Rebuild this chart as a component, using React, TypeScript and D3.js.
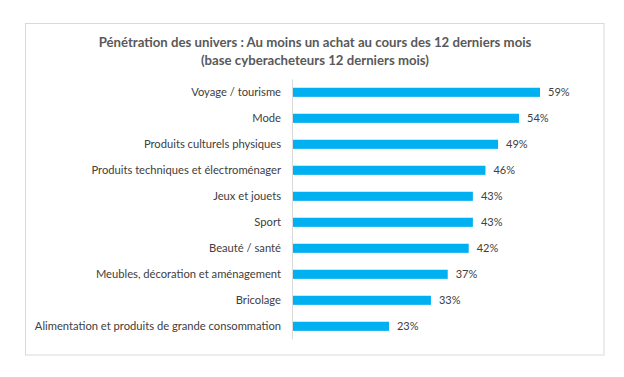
import React from "react";
import * as d3 from "d3";

const categories = [
  "Voyage / tourisme",
  "Mode",
  "Produits culturels physiques",
  "Produits techniques et électroménager",
  "Jeux et jouets",
  "Sport",
  "Beauté / santé",
  "Meubles, décoration et aménagement",
  "Bricolage",
  "Alimentation et produits de grande consommation",
];
const values = [59, 54, 49, 46, 43, 43, 42, 37, 33, 23];
const titleLines = [
  "Pénétration des univers : Au moins un achat au cours des 12 derniers mois",
  "(base cyberacheteurs 12 derniers mois)",
];

export default function App() {
  const W = 624, H = 377;
  const x0 = 292.5;
  const x = d3.scaleLinear().domain([0, 59]).range([x0, 540]);
  const y = d3.scaleBand().domain(categories).range([79.3, 339.3]).paddingInner(0.65).paddingOuter(0.325);
  const font = "Lato, 'Open Sans', sans-serif";
  return (
    <svg width={W} height={H} style={{ position: "absolute", left: 0, top: 0, background: "#fff" }}>
      <rect x={25.5} y={23.5} width={578.5} height={331.5} fill="#fff" stroke="#d9d9d9" strokeWidth={1} />
      {titleLines.map((t, i) => (
        <text key={i} x={315} y={47 + i * 18} textAnchor="middle" fontFamily={font} fontWeight="bold" fontSize={13.2} fill="#595959">{t}</text>
      ))}
      <line x1={x0} x2={x0} y1={79.3} y2={339.3} stroke="#d9d9d9" strokeWidth={1} />
      {categories.map((c, i) => {
        const yy = y(c)!;
        const bw = y.bandwidth();
        return (
          <g key={c}>
            <rect x={x(0) + 0.5} y={yy} width={x(values[i]) - x(0) - 0.5} height={bw} fill="#00B0F0" />
            <text x={281} y={yy + bw / 2} dy="0.35em" textAnchor="end" fontFamily={font} fontSize={11.2} fill="#404040">{c}</text>
            <text x={x(values[i]) + 8} y={yy + bw / 2} dy="0.35em" fontFamily={font} fontSize={11} fill="#404040">{values[i]}%</text>
          </g>
        );
      })}
    </svg>
  );
}
